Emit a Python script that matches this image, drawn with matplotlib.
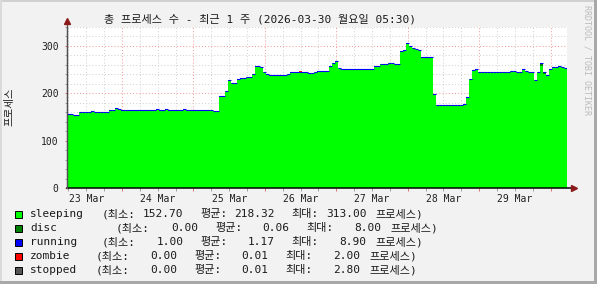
import datetime as dt

import matplotlib

matplotlib.use("Agg")
import matplotlib.dates as mdates
import numpy as np
from matplotlib import pyplot as plt
from matplotlib.patches import Rectangle
from matplotlib.ticker import FuncFormatter, MultipleLocator, NullFormatter

TITLE = "총 프로세스 수 - 최근 1 주 (2026-03-30 월요일 05:30)"
START = dt.datetime(2026, 3, 23, 5, 30)
END = dt.datetime(2026, 3, 30, 5, 30)

# hourly averages, one row per 24 h starting at 05:30
sleeping = [
    154.5, 154.5, 153.5, 152.7, 159.5, 159.5, 159.5, 159.5, 160.5, 159.5, 159.5, 159.5,
    159.5, 159.5, 163.5, 163.8, 167.0, 165.0, 163.0, 163.0, 163.0, 163.0, 163.0, 163.0,
    163.0, 163.0, 163.0, 163.0, 163.0, 163.0, 165.0, 163.0, 163.0, 165.0, 163.0, 163.0,
    163.0, 163.0, 163.0, 165.0, 163.0, 163.0, 163.0, 163.0, 163.0, 163.0, 163.0, 163.0,
    164.0, 162.0, 162.0, 193.0, 193.0, 204.0, 226.0, 221.0, 221.0, 229.0, 230.5, 232.0,
    233.5, 233.5, 240.0, 256.5, 256.5, 255.0, 244.0, 239.5, 237.0, 237.5, 237.5, 237.5,
    237.5, 237.5, 240.5, 243.0, 243.0, 243.0, 245.0, 243.0, 243.0, 241.0, 242.5, 245.0,
    246.0, 246.0, 246.0, 246.0, 256.5, 263.0, 267.0, 253.0, 250.0, 250.0, 250.0, 250.0,
    250.0, 250.0, 250.0, 250.0, 250.0, 250.0, 250.0, 256.5, 256.5, 261.0, 261.0, 261.0,
    263.5, 263.5, 261.0, 261.0, 288.0, 290.0, 303.5, 299.5, 295.0, 293.0, 290.5, 275.5,
    275.5, 275.5, 275.5, 197.0, 174.5, 174.5, 174.5, 174.5, 174.5, 174.5, 174.5, 174.5,
    174.5, 174.5, 191.0, 230.0, 247.5, 249.5, 245.0, 245.0, 245.0, 245.0, 245.0, 245.0,
    245.0, 245.0, 245.0, 245.0, 245.0, 247.0, 247.0, 245.0, 245.0, 249.5, 247.0, 245.0,
    245.0, 227.5, 245.0, 257.0, 240.0, 237.0, 250.0, 253.5, 254.5, 256.0, 255.0, 252.5,
]
disc = [
    0, 0, 0, 0, 0, 0, 0, 0, 0, 0, 0, 0, 0, 0, 0, 0, 0, 0, 0, 0, 0, 0, 0, 0,
    0, 0, 0, 1, 0, 0, 0, 0, 0, 0, 0, 0, 0, 0, 0, 0, 0, 0, 0, 0, 0, 0, 0, 0,
    0, 0, 0, 0, 0, 0, 0, 0, 0, 0, 0, 0, 0, 0, 0, 0, 0, 0, 0, 0, 0, 0, 0, 0,
    0, 0, 0, 0, 0, 0, 0, 0, 0, 0, 0, 0, 0, 0, 0, 0, 0, 0, 0, 0, 0, 0, 0, 0,
    0, 0, 0, 0, 0, 0, 0, 0, 0, 0, 0, 0, 0, 0, 0, 0, 0, 0, 0, 0, 0, 0, 0, 0,
    0, 0, 0, 0, 0, 0, 0, 0, 0, 0, 0, 0, 0, 0, 0, 0, 0, 0, 0, 0, 0, 0, 0, 0,
    0, 0, 0, 0, 0, 0, 0, 0, 0, 0, 0, 0, 0, 0, 0, 5, 4, 0, 0, 0, 0, 0, 0, 0,
]
running = [
    1, 1, 1, 1, 1, 1, 1, 1, 1.5, 1, 1, 1, 1, 1, 1, 1, 1.5, 1, 1, 1, 1, 1, 1, 1,
    1, 1, 1, 1, 1, 1, 2, 1, 1, 1, 1, 1, 1, 1, 1, 1, 1, 1, 1, 1, 1, 1, 1, 1,
    1, 1, 1, 1, 1, 1, 2, 1, 1, 1, 1, 1, 1, 1, 1, 2, 1, 1, 1, 1, 1, 1, 1, 1,
    1, 1, 1, 1, 1, 1, 1, 1, 1, 1, 1, 1, 1, 1, 1, 1, 1, 1, 2, 1, 1, 1, 1, 1,
    1, 1, 1, 1, 1, 1, 1, 1, 1, 1, 1, 1, 1, 1, 1, 1, 1, 1, 2, 1, 1, 1, 1, 1.5,
    1, 1, 1, 1, 1, 1, 1, 1, 1, 1, 1, 1.5, 1, 2, 1, 1, 1, 1, 1, 1, 1, 1, 1, 1,
    1, 1, 1, 1, 1, 1, 1, 1, 1, 2, 1, 1, 1, 1, 1, 1.5, 1, 1, 1, 1, 1, 2, 1, 1,
]
zombie = [
    0, 0, 0, 0, 0, 0, 0, 0, 0, 0, 0, 0, 0, 0, 0, 0, 0, 0, 0, 0, 0, 0, 0, 0,
    0, 0, 0, 0, 0, 0, 0, 0, 0, 0, 0, 0, 0, 0, 0, 0, 0, 0, 0, 0, 0, 0, 0, 0,
    0, 0, 0, 0, 0, 0, 0, 0, 0, 0, 0, 0, 0, 0, 0, 0, 0, 0, 0, 0, 0, 0, 0, 0,
    0, 0, 0, 0, 0, 0, 1.5, 0, 0, 0, 0, 0, 0, 0, 0, 0, 0, 0, 0, 0, 0, 0, 0, 0,
    0, 0, 0, 0, 0, 0, 0, 0, 0, 0, 0, 0, 0, 0, 0, 0, 0, 0, 0, 0, 0, 0, 0, 0,
    0, 0, 0, 0, 0, 0, 0, 0, 0, 0, 0, 0, 0, 0, 0, 0, 0, 0, 0, 0, 0, 0, 0, 0,
    0, 0, 0, 0, 0, 0, 0, 0, 0, 0, 0, 0, 0, 0, 0, 0, 0, 0, 0, 0, 0, 0, 0, 0,
]
stopped = [
    0, 0, 0, 0, 0, 0, 0, 0, 0, 0, 0, 0, 0, 0, 0, 0, 0, 0, 0, 0, 0, 0, 0, 0,
    0, 0, 0, 0, 0, 0, 0, 0, 0, 0, 0, 0, 0, 0, 0, 0, 0, 0, 0, 0, 0, 0, 0, 0,
    0, 0, 0, 0, 0, 0, 0, 0, 0, 0, 0, 0, 0, 0, 0, 0, 0, 0, 0, 0, 0, 0, 0, 0,
    0, 0, 0, 0, 0, 0, 0, 0, 0, 0, 0, 0, 0, 0, 0, 0, 0, 0, 0, 0, 0, 0, 0, 0,
    0, 0, 0, 0, 0, 0, 0, 0, 0, 0, 0, 0, 0, 0, 0, 0, 0, 0, 0, 0, 0, 0, 0, 0,
    0, 0, 0, 0, 0, 0, 0, 0, 0, 0, 0, 0, 0, 0, 0, 0, 0, 0, 0, 0, 0, 0, 0, 0,
    0, 0, 0, 0, 0, 0, 0, 0, 0, 0, 0, 0, 0, 0, 0, 1.5, 0, 0, 0, 0, 0, 0, 0, 0,
]

series_names = ["sleeping", "disc", "running", "zombie", "stopped"]
series_values = [sleeping, disc, running, zombie, stopped]
series_colors = ["#00FF00", "#008000", "#0000FF", "#FF0000", "#555555"]
legend_min = ["152.70", "0.00", "1.00", "0.00", "0.00"]
legend_avg = ["218.32", "0.06", "1.17", "0.01", "0.01"]
legend_max = ["313.00", "8.00", "8.90", "2.00", "2.80"]

MONO = ["DejaVu Sans Mono", "Noto Sans CJK KR"]
W, H = 597, 284


def fx(px):
    return px / W


def fy(py):
    return 1 - py / H


fig = plt.figure(figsize=(W / 100, H / 100), dpi=100, facecolor="#F2F2F2")
ax = fig.add_axes([fx(67), fy(188), (567 - 67) / W, (188 - 27) / H])
ax.set_facecolor("white")

times = [START + dt.timedelta(hours=i) for i in range(len(sleeping) + 1)]
t = mdates.date2num(times)
base = np.zeros(len(t))
for name, vals, color in zip(series_names, series_values, series_colors):
    v = np.array(vals + [vals[-1]], dtype=float)
    top = base + v
    ax.fill_between(t, base, top, step="post", color=color, linewidth=0, zorder=2)
    if name == "running":
        ax.hlines(top[:-1], t[:-1], t[1:], color=color, linewidth=0.8, zorder=3)
    base = top

ax.set_xlim(mdates.date2num(START), mdates.date2num(END))
ax.set_ylim(0, 340)

ax.yaxis.set_major_locator(MultipleLocator(100))
ax.yaxis.set_minor_locator(MultipleLocator(20))
ax.xaxis.set_major_locator(mdates.DayLocator())
ax.xaxis.set_minor_locator(mdates.HourLocator(byhour=[0, 6, 12, 18]))
ax.xaxis.set_major_formatter(NullFormatter())
ax.xaxis.set_minor_formatter(
    FuncFormatter(lambda x, pos: mdates.num2date(x).strftime("%d %b") if mdates.num2date(x).hour == 12 else "")
)

ax.set_axisbelow(True)
ax.grid(which="major", color="#F2A0A0", linestyle=(0, (1, 2)), linewidth=0.75)
ax.grid(which="minor", color="#D4D4D4", linestyle=(0, (1, 2)), linewidth=0.75)

ax.tick_params(which="both", direction="out", length=1.8, width=0.7)
ax.tick_params(which="major", color="#E07070")
ax.tick_params(which="minor", color="#A0A0A0")
ax.tick_params(axis="y", which="major", labelsize=7, pad=4.2, labelcolor="#202020")
ax.tick_params(axis="x", which="minor", labelsize=7, pad=2.5, labelcolor="#202020")
for lab in ax.get_yticklabels() + ax.get_xticklabels(minor=True):
    lab.set_family("DejaVu Sans Mono")

for side in ("top", "right"):
    ax.spines[side].set_visible(False)
ax.spines["left"].set_color("#505050")
ax.spines["bottom"].set_visible(False)
ax.spines["left"].set_linewidth(0.9)
ax.plot([0, 1.012], [0, 0], transform=ax.transAxes, clip_on=False, color="black", linewidth=1.1, zorder=5)
ax.plot([0, 0], [0, 1.03], transform=ax.transAxes, clip_on=False, color="#505050", linewidth=0.9, zorder=5)
ax.plot([1.014], [0], marker=">", markersize=4, transform=ax.transAxes, clip_on=False, color="#8B1A1A", zorder=6)
ax.plot([0], [1.035], marker="^", markersize=4, transform=ax.transAxes, clip_on=False, color="#8B1A1A", zorder=6)

fig.text(fx(260), fy(19), TITLE, ha="center", va="center", fontsize=8, family=MONO, color="#1A1A1A")
fig.text(fx(10), fy(107), "프로세스", ha="center", va="center", rotation=90, fontsize=7.5, family=MONO, color="#1A1A1A")
fig.text(fx(586.5), fy(60), "RRDTOOL / TOBI OETIKER", ha="center", va="center", rotation=270,
         fontsize=6, family="DejaVu Sans Mono", color="#BBBBBB")

row_y = [214, 228, 242, 256, 270]
row_x = [101.5, 116, 101.5, 95.5, 95.5]
for i, name in enumerate(series_names):
    y = fy(row_y[i])
    x0 = row_x[i]
    fig.patches.append(Rectangle((fx(15), fy(row_y[i] + 3.5)), fx(7), 7 / H, transform=fig.transFigure,
                                 facecolor=series_colors[i], edgecolor="black", linewidth=0.7))
    opts = dict(va="center", fontsize=8, family=MONO, color="#1A1A1A")
    fig.text(fx(30), y, name, ha="left", **opts)
    fig.text(fx(x0), y, "(최소:", ha="left", **opts)
    fig.text(fx(x0 + 82), y, legend_min[i], ha="right", **opts)
    fig.text(fx(x0 + 99), y, "평균:", ha="left", **opts)
    fig.text(fx(x0 + 173), y, legend_avg[i], ha="right", **opts)
    fig.text(fx(x0 + 190), y, "최대:", ha="left", **opts)
    fig.text(fx(x0 + 265), y, legend_max[i], ha="right", **opts)
    fig.text(fx(x0 + 274), y, "프로세스)", ha="left", **opts)

# raised frame around the canvas
for (x, y, w, h), c in [
    ((0, H - 2, W, 2), "#D0D0D0"),
    ((0, 0, 2, H), "#DADADA"),
    ((W - 3, 0, 3, H), "#A8A8A8"),
    ((0, 0, W, 3), "#A8A8A8"),
]:
    fig.patches.append(Rectangle((x / W, y / H), w / W, h / H, transform=fig.transFigure,
                                 facecolor=c, edgecolor="none"))

fig.savefig("out.png", dpi=100, facecolor=fig.get_facecolor())
